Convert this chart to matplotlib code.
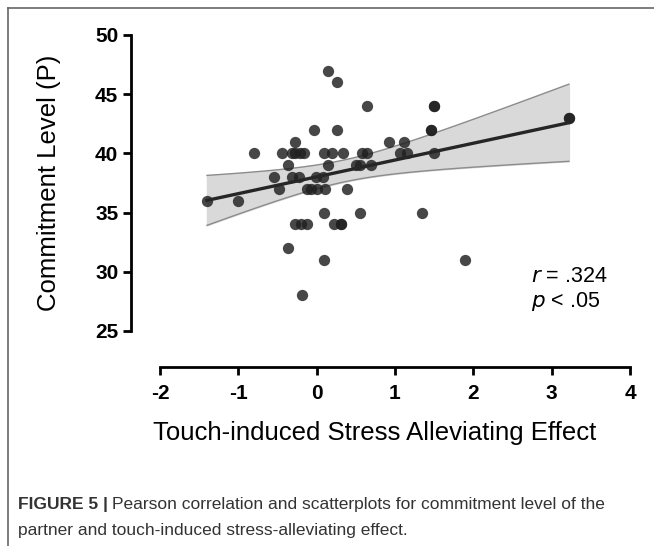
import numpy as np
import matplotlib
matplotlib.use("Agg")
import matplotlib.pyplot as plt
from matplotlib.lines import Line2D

plt.rcParams["font.family"] = ["Liberation Sans", "DejaVu Sans"]
plt.rcParams["axes.unicode_minus"] = False

# Touch-induced stress alleviating effect (x) vs commitment level (y)
stress_effect = [-1.40, -1.00, -0.80, -0.55, -0.48, -0.44, -0.37, -0.36, -0.32, -0.31,
                 -0.28, -0.28, -0.27, -0.23, -0.21, -0.20, -0.19, -0.16, -0.12, -0.12,
                 -0.07, 0.00, 0.11, -0.03, -0.01, 0.08, 0.09, 0.09, 0.09, 0.14,
                 0.14, 0.19, 0.22, 0.26, 0.26, 0.31, 0.31, 0.34, 0.39, 0.50, 0.55,
                 0.55, 0.58, 0.64, 0.64, 0.69, 0.92, 1.07, 1.12, 1.15, 1.34,
                 1.46, 1.46, 1.50, 1.50, 1.50, 1.90, 3.22, 3.22]
commitment = [36, 36, 40, 38, 37, 40, 39, 32, 40, 38,
              41, 34, 40, 38, 40, 34, 28, 40, 37, 34,
              37, 37, 37, 42, 38, 38, 40, 35, 31, 39,
              47, 40, 34, 42, 46, 34, 34, 40, 37, 39, 39,
              35, 40, 40, 44, 39, 41, 40, 41, 40, 35,
              42, 42, 44, 44, 40, 31, 43, 43]

x = np.array(stress_effect)
y = np.array(commitment)

# linear fit with 95% confidence band
slope, intercept = np.polyfit(x, y, 1)
n = len(x)
resid = y - (slope * x + intercept)
s = np.sqrt(np.sum(resid ** 2) / (n - 2))
sxx = np.sum((x - x.mean()) ** 2)
t_crit = 2.003
xs = np.linspace(x.min(), x.max(), 100)
ys = slope * xs + intercept
half = t_crit * s * np.sqrt(1 / n + (xs - x.mean()) ** 2 / sxx)

fig = plt.figure(figsize=(6.54, 5.46), dpi=100)
ax = fig.add_axes([0.2446, 0.3938, 0.7187, 0.5421])

ax.fill_between(xs, ys - half, ys + half, color="#d9d9d9", zorder=1)
ax.plot(xs, ys + half, color="#8c8c8c", lw=1, zorder=2)
ax.plot(xs, ys - half, color="#8c8c8c", lw=1, zorder=2)
ax.scatter(x, y, s=66, color="#1f1f1f", alpha=0.82, linewidths=0, zorder=3)
ax.plot(xs, ys, color="#262626", lw=2.4, zorder=4)

ax.set_xlim(-2, 4)
ax.set_ylim(25, 50)
ax.set_xticks(range(-2, 5))
ax.set_yticks(range(25, 51, 5))

for side in ["top", "right"]:
    ax.spines[side].set_visible(False)
ax.spines["left"].set_position(("outward", 21))
ax.spines["bottom"].set_position(("outward", 26))
for side in ["left", "bottom"]:
    ax.spines[side].set_linewidth(2)
ax.tick_params(width=2, length=6, labelsize=15)
ax.tick_params(axis="x", pad=6)
ax.tick_params(axis="y", pad=3)
for lab in ax.get_xticklabels() + ax.get_yticklabels():
    lab.set_fontweight("bold")

ax.set_ylabel("Commitment Level (P)", fontsize=18.5)
ax.yaxis.set_label_coords(-0.21, 0.5)
ax.set_xlabel("Touch-induced Stress Alleviating Effect", fontsize=18.5)
ax.xaxis.set_label_coords(0.457, -0.303)

ax.text(2.73, 29.6, r"$\it{r}$ = .324", fontsize=15.5, ha="left", va="center")
ax.text(2.73, 27.5, r"$\it{p}$ < .05", fontsize=15.5, ha="left", va="center")

# figure border (top and left) and caption
fig.add_artist(Line2D([8 / 654, 1], [1 - 8 / 546, 1 - 8 / 546], color="#666666", lw=1.2))
fig.add_artist(Line2D([8 / 654, 8 / 654], [0, 1 - 8 / 546], color="#666666", lw=1.2))

fig.text(18 / 654, 1 - 505 / 546, "FIGURE 5 |", fontsize=12.5, fontweight="bold",
         color="#333333", va="center")
fig.text(112 / 654, 1 - 505 / 546,
         "Pearson correlation and scatterplots for commitment level of the",
         fontsize=12.5, color="#333333", va="center")
fig.text(18 / 654, 1 - 531 / 546, "partner and touch-induced stress-alleviating effect.",
         fontsize=12.5, color="#333333", va="center")

fig.savefig("out.png", dpi=100)
